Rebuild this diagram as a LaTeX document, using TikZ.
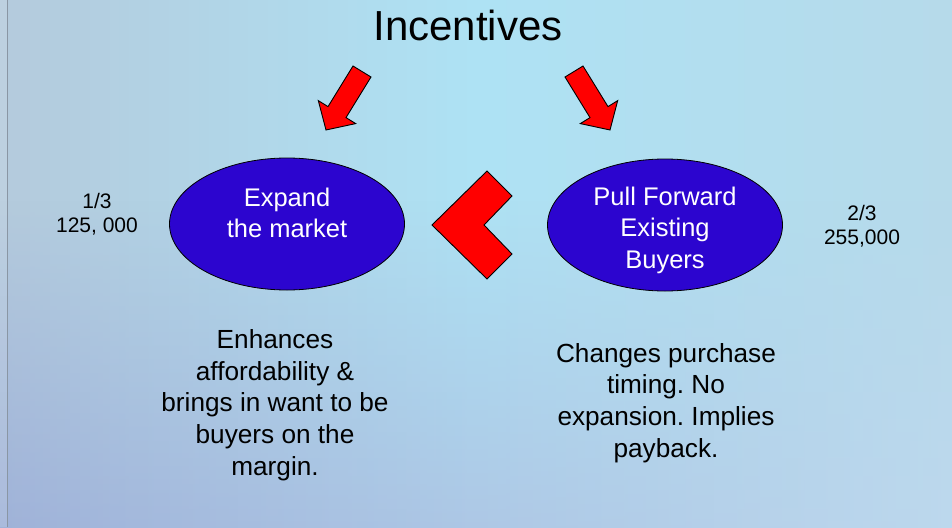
\documentclass[tikz,border=0pt]{standalone}
\usepackage{fontspec}
\setmainfont{Liberation Sans}
\usetikzlibrary{fadings,shapes.geometric}

\definecolor{bgleft}{HTML}{B4CADC}
\definecolor{bgmid}{HTML}{AEE2F4}
\definecolor{bgright}{HTML}{B6DAEA}
\definecolor{lowleft}{HTML}{9CAED8}
\definecolor{lowright}{HTML}{BED8EE}
\definecolor{blobblue}{HTML}{2C05CF}
\definecolor{edgegray}{HTML}{8A96A4}

\tikzfading[name=riseup, top color=transparent!100, bottom color=transparent!0]

\frenchspacing

\begin{document}
\begin{tikzpicture}[x=1pt,y=-1pt,
  blob/.style={ellipse, draw=black, line width=0.8pt, fill=blobblue,
    minimum width=235, minimum height=132, inner sep=0pt},
  inblob/.style={text=white, align=center, font=\fontsize{25.5}{31.5}\selectfont},
  body/.style={text=black, align=center, font=\fontsize{26.2}{31.7}\selectfont},
  share/.style={text=black, align=center, font=\fontsize{21}{24}\selectfont},
  redshape/.style={fill=red, draw=black, line width=0.9pt, line join=miter}]

\useasboundingbox (0,0) rectangle (952,527);

% background wash
\shade[left color=bgleft, right color=bgright, middle color=bgmid]
  (0,0) rectangle (952,527);
\shade[left color=lowleft, right color=lowright, path fading=riseup, fill opacity=0.85]
  (0,200) rectangle (952,527);
\fill[white, opacity=0.12] (0,0) rectangle (7,527);
\draw[edgegray, line width=1.2pt] (7.5,0) -- (7.5,527);

% title
\node[anchor=base, font=\fontsize{42}{50}\selectfont] (title) at (468,41) {Incentives};

% two approaches
\node[blob] (expand) at (287,224) {};
\node[inblob] (expandtxt) at (287,213) {Expand\\the market};
\node[blob] (pull) at (665,225) {};
\node[inblob] (pulltxt) at (665,230) {Pull Forward\\Existing\\Buyers};

% block arrows from the title
\filldraw[redshape] (353.0,66.0) -- (371.0,77.0) -- (346.0,117.6) -- (355.7,123.6)
  -- (326,130) -- (318.3,100.6) -- (328.0,106.6) -- cycle;
\filldraw[redshape] (583.0,66.0) -- (565.0,77.0) -- (590.0,117.6) -- (580.3,123.6)
  -- (610,130) -- (617.7,100.6) -- (608.0,106.6) -- cycle;

% chevron pointing from right to left
\filldraw[redshape] (432,225) -- (487,171) -- (512,196) -- (484,225)
  -- (512,254) -- (487,279) -- cycle;

% shares
\node[share] (leftshare) at (97,214) {1/3\\125, 000};
\node[share] (rightshare) at (862,226) {2/3\\255,000};

% descriptions
\node[body] (leftdesc) at (275,405) {Enhances\\affordability \&\\brings in want to be\\buyers on the\\margin.};
\node[body] (rightdesc) at (666,403) {Changes purchase\\timing. No\\expansion. Implies\\payback.};

\end{tikzpicture}
\end{document}
